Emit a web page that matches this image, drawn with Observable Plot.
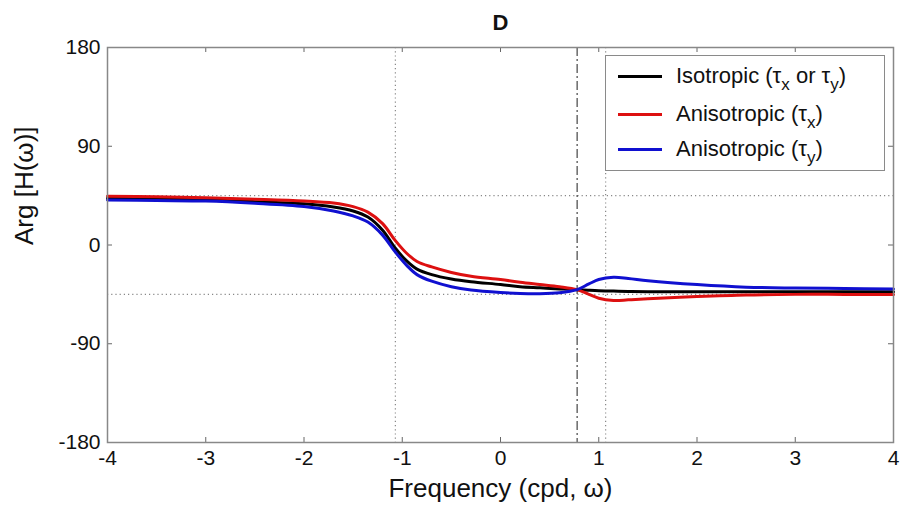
<!DOCTYPE html>
<html><head><meta charset="utf-8">
<script src="https://cdn.jsdelivr.net/npm/d3@7"></script>
<script src="https://cdn.jsdelivr.net/npm/@observablehq/plot@0.6"></script>
<style>
body{margin:0;background:#fff;font-family:"Liberation Sans",Arial,sans-serif;}
#wrap{position:relative;width:906px;height:508px;}
#legend{position:absolute;left:605px;top:55px;width:280px;height:116px;border:1px solid #8a8a8a;background:#fff;box-sizing:border-box;}
.row{position:absolute;left:0;height:30px;display:flex;align-items:center;font-size:22px;color:#111;white-space:nowrap;}
.sw{width:44px;height:3px;margin-left:12px;margin-right:14px;}
sub{font-size:17px;vertical-align:-7px;line-height:0;}
</style>
</head><body>
<div id="wrap"><div id="legend"></div></div>
<script>
// data
const freq      = [-4, -3.5, -3, -2.5, -2, -1.7, -1.5, -1.35, -1.2, -1.07, -0.95, -0.85, -0.7, -0.5, -0.3, 0, 0.2, 0.4, 0.6, 0.78, 0.9, 1.0, 1.15, 1.3, 1.5, 2, 2.5, 3, 3.5, 4];
const isotropic = [42.5, 42, 41.3, 39.5, 37.5, 34.6, 31, 25.5, 13.5, -3, -15, -22, -27, -31, -33.5, -36, -38, -39, -40, -40.7, -41.3, -41.7, -42, -42.3, -42.5, -42.5, -42.5, -42.5, -42.5, -42.5];
const anisoX    = [44.5, 44, 43, 41.8, 40.2, 38.3, 35, 30, 19.5, 4, -8, -15, -20, -25, -28.5, -31.5, -34, -36, -38, -40.7, -45, -48.5, -50.5, -50, -49, -47, -45.5, -45, -45, -45];
const anisoY    = [41, 40.5, 40, 38, 35, 31, 26.5, 20.9, 9, -6.5, -19, -27, -33, -38, -41, -43.3, -44.2, -44.4, -43.5, -40.7, -35.5, -31.5, -29.5, -30.5, -32.5, -36, -38.4, -39.2, -39.6, -40];
const seriesNames  = ["Isotropic (τ<sub>x</sub> or τ<sub>y</sub>)", "Anisotropic (τ<sub>x</sub>)", "Anisotropic (τ<sub>y</sub>)"];
const seriesColors = ["#000000", "#dd1010", "#1010d0"];
const xTicks = [-4, -3, -2, -1, 0, 1, 2, 3, 4];
const yTicks = [-180, -90, 0, 90, 180];
const refLevels = [-45, 45];
const refFreqs  = [-1.07, 1.07];
const crossFreq = [0.78];
const titleText = "D";
const xLabel = "Frequency (cpd, ω)";
const yLabel = "Arg [H(ω)]";

const seriesValues = [isotropic, anisoX, anisoY];
const rows = seriesValues.map((vals, i) => freq.map((f, j) => ({f, v: vals[j], s: i})));

const W = 906, H = 508, mL = 107, mR = 13, mT = 47, mB = 66;
const pw = W - mL - mR, ph = H - mT - mB;
const tickLen = 5;
const fmt = d => String(d);

const chart = Plot.plot({
  width: W, height: H,
  marginLeft: mL, marginRight: mR, marginTop: mT, marginBottom: mB,
  style: {fontFamily: '"Liberation Sans", Arial, sans-serif', color: "#111", background: "#fff"},
  x: {domain: [-4, 4], ticks: xTicks, label: null},
  y: {domain: [-180, 180], ticks: yTicks, label: null},
  marks: [
    Plot.ruleY(refLevels, {y: d => d, stroke: "#888", strokeDasharray: "1.2,3", strokeWidth: 1.2}),
    Plot.ruleX(refFreqs, {x: d => d, stroke: "#888", strokeDasharray: "1.2,3", strokeWidth: 1.2}),
    Plot.ruleX(crossFreq, {x: d => d, stroke: "#444", strokeDasharray: "9,3,2,3", strokeWidth: 1.2}),
    ...rows.map((r, i) => Plot.line(r, {x: "f", y: "v", stroke: seriesColors[i], strokeWidth: 3, curve: "catmull-rom"})),
    Plot.tickX(xTicks, {x: d => d, stroke: "#666", insetTop: ph - tickLen}),
    Plot.tickX(xTicks, {x: d => d, stroke: "#666", insetBottom: ph - tickLen}),
    Plot.tickY(yTicks, {y: d => d, stroke: "#666", insetRight: pw - tickLen}),
    Plot.tickY(yTicks, {y: d => d, stroke: "#666", insetLeft: pw - tickLen}),
    Plot.frame({stroke: "#888", strokeWidth: 1.5}),
    Plot.axisX(xTicks, {tickSize: 0, tickPadding: 8, fontSize: 21, label: null, tickFormat: fmt}),
    Plot.axisY(yTicks, {tickSize: 0, tickPadding: 7, fontSize: 21, label: null, tickFormat: fmt}),
    Plot.text([titleText], {frameAnchor: "top", text: d => d, dy: -33, fontSize: 22, fontWeight: "bold"}),
    Plot.text([xLabel], {frameAnchor: "bottom", text: d => d, dy: 54, fontSize: 26}),
    Plot.text([yLabel], {frameAnchor: "left", text: d => d, dx: -83, rotate: -90, fontSize: 26})
  ]
});
document.getElementById("wrap").prepend(chart);

const legend = document.getElementById("legend");
const rowTops = [5, 43, 78];
seriesNames.forEach((name, i) => {
  const row = document.createElement("div");
  row.className = "row";
  row.style.top = rowTops[i] + "px";
  row.innerHTML = `<span class="sw" style="background:${seriesColors[i]}"></span><span>${name}</span>`;
  legend.appendChild(row);
});
</script>
</body></html>
